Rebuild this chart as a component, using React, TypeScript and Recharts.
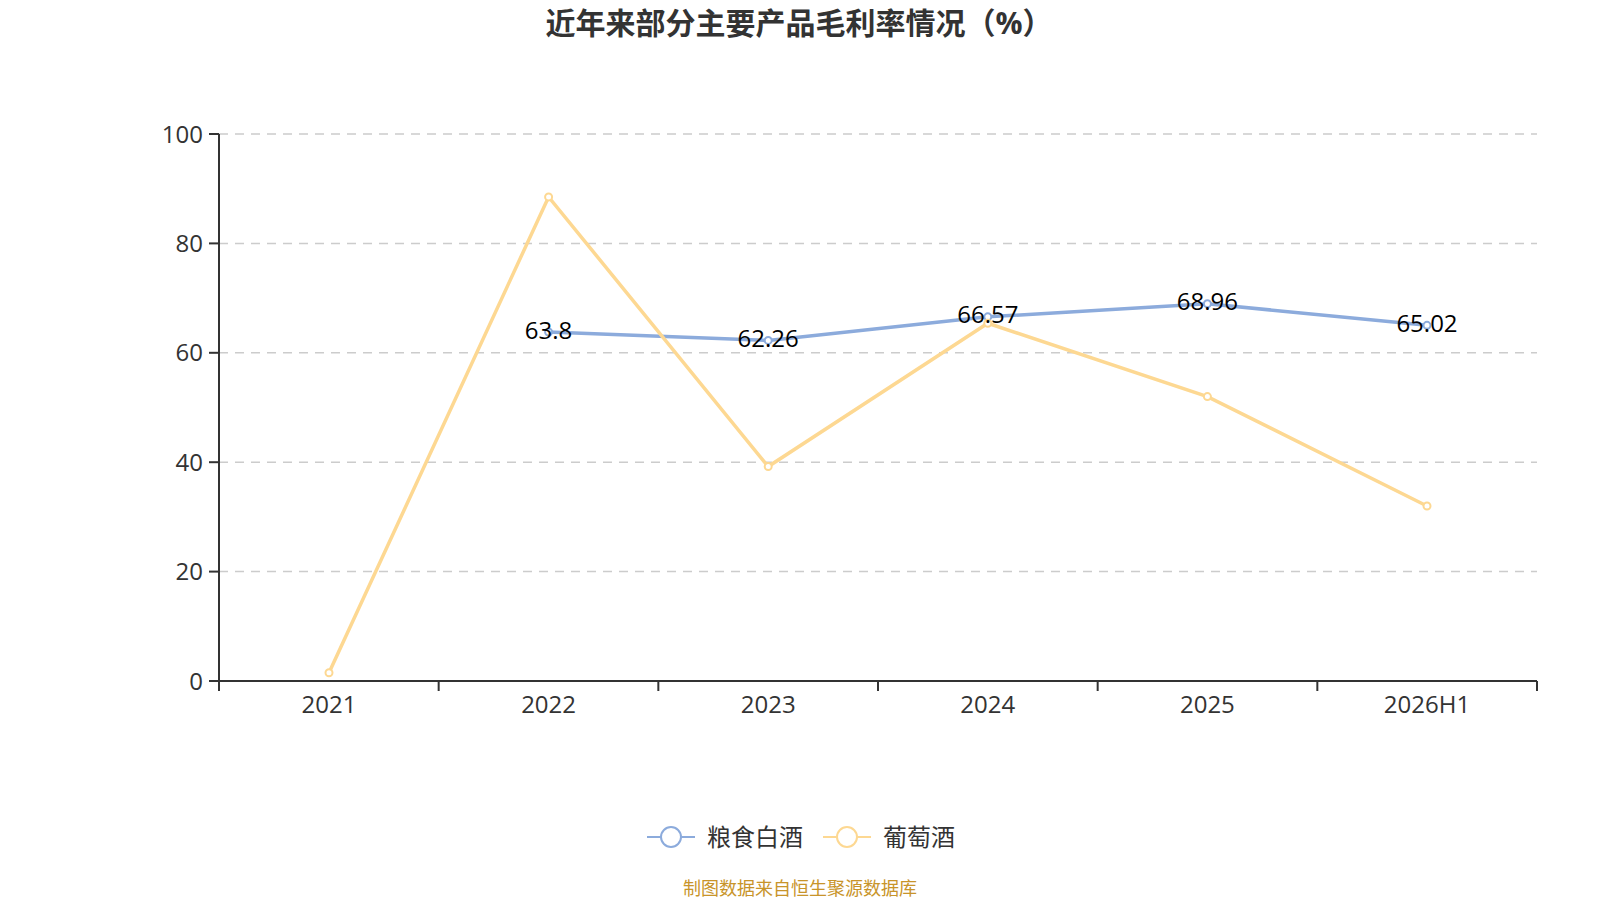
import React from 'react';
import { LineChart, Line, XAxis, YAxis, CartesianGrid, LabelList } from 'recharts';

const FONT = '"Open Sans", "Noto Sans CJK SC", sans-serif';

// categories and series
const years = ['2021', '2022', '2023', '2024', '2025', '2026H1'];
const grainLiquor = [null, 63.8, 62.26, 66.57, 68.96, 65.02];
const wine = [1.5, 88.5, 39.2, 65.4, 52.0, 32.0];
const yTicks = [0, 20, 40, 60, 80, 100];
const boundaryTicks = [0, 1, 2, 3, 4, 5, 6];

const SERIES = [
  { key: 'grain', name: '粮食白酒', color: '#8cabdc' },
  { key: 'wine', name: '葡萄酒', color: '#fdd892' },
];

const data = years.map((year, i) => ({
  year,
  idx: i + 0.5,
  grain: grainLiquor[i],
  wine: wine[i],
}));

const AXIS_COLOR = '#333';
const TICK_STYLE = { fontSize: 24, fill: '#333', fontFamily: FONT };
const HALF_BAND = 110; // half of one category band, so points sit in the middle of each band

function renderValueLabel(props: any) {
  const { x, y, value } = props;
  if (value === null || value === undefined) return null;
  return (
    <text x={x} y={y - 3} textAnchor="middle" dominantBaseline="central" fontSize={24} fill="#000" fontFamily={FONT}>
      {value}
    </text>
  );
}

const emptyTick = () => <g />;

function LegendIcon({ color }: { color: string }) {
  return (
    <svg width={48} height={26} style={{ display: 'block' }}>
      <line x1={0} y1={13} x2={48} y2={13} stroke={color} strokeWidth={2} />
      <circle cx={24} cy={13} r={10} fill="#fff" stroke={color} strokeWidth={2} />
    </svg>
  );
}

export default function App() {
  return (
    <div style={{ position: 'absolute', left: 0, top: 0, width: 1600, height: 900, background: '#fff', fontFamily: FONT, overflow: 'hidden' }}>
      {/* title */}
      <div style={{ position: 'absolute', top: 3, left: 0, width: 1598, textAlign: 'center', fontSize: 30, fontWeight: 'bold', color: '#333', lineHeight: '40px' }}>
        近年来部分主要产品毛利率情况（%）
      </div>

      <LineChart width={1600} height={900} data={data} margin={{ top: 134, right: 63, left: 139, bottom: 179 }}>
        <CartesianGrid xAxisId="cat" vertical={false} stroke="#ccc" strokeDasharray="9 7" strokeWidth={1.5} />
        {/* category labels (no line, no ticks) */}
        <XAxis
          xAxisId="cat"
          dataKey="year"
          axisLine={false}
          tickLine={false}
          tickSize={10}
          tickMargin={5}
          height={0.01}
          tick={TICK_STYLE}
          interval={0}
          padding={{ left: HALF_BAND, right: HALF_BAND }}
        />
        {/* axis line with ticks on the band boundaries */}
        <XAxis
          xAxisId="grid"
          type="number"
          dataKey="idx"
          domain={[0, 6]}
          ticks={boundaryTicks}
          allowDataOverflow
          tick={emptyTick}
          tickSize={10}
          height={39.99}
          stroke={AXIS_COLOR}
          strokeWidth={2}
        />
        <YAxis
          domain={[0, 100]}
          ticks={yTicks}
          width={80}
          tickSize={10}
          tickMargin={6}
          tick={TICK_STYLE}
          stroke={AXIS_COLOR}
          strokeWidth={2}
        />
        {/* invisible series so the boundary-tick axis is drawn */}
        <Line
          xAxisId="grid"
          type="linear"
          dataKey="wine"
          stroke="none"
          dot={false}
          activeDot={false}
          legendType="none"
          isAnimationActive={false}
        />
        <Line
          xAxisId="cat"
          type="linear"
          dataKey="grain"
          name={SERIES[0].name}
          stroke={SERIES[0].color}
          strokeWidth={3.5}
          dot={{ r: 3.5, fill: '#fff', stroke: SERIES[0].color, strokeWidth: 2 }}
          activeDot={false}
          isAnimationActive={false}
        />
        <Line
          xAxisId="cat"
          type="linear"
          dataKey="wine"
          name={SERIES[1].name}
          stroke={SERIES[1].color}
          strokeWidth={3.5}
          dot={{ r: 3.5, fill: '#fff', stroke: SERIES[1].color, strokeWidth: 2 }}
          activeDot={false}
          isAnimationActive={false}
        />
        {/* labels for 粮食白酒 drawn last so they sit on top */}
        <Line
          xAxisId="cat"
          type="linear"
          dataKey="grain"
          stroke="none"
          dot={false}
          activeDot={false}
          legendType="none"
          isAnimationActive={false}
        >
          <LabelList dataKey="grain" content={renderValueLabel} />
        </Line>
      </LineChart>

      {/* legend */}
      <div style={{ position: 'absolute', top: 822, left: 0, width: 1600, display: 'flex', justifyContent: 'center', alignItems: 'center', gap: 20, paddingLeft: 2, boxSizing: 'border-box' }}>
        {SERIES.map(s => (
          <div key={s.key} style={{ display: 'flex', alignItems: 'center', gap: 12 }}>
            <LegendIcon color={s.color} />
            <span style={{ fontSize: 24, color: '#333', lineHeight: '30px' }}>{s.name}</span>
          </div>
        ))}
      </div>

      {/* source */}
      <div style={{ position: 'absolute', top: 878, left: 0, width: 1600, textAlign: 'center', fontSize: 18, color: '#c8942a', lineHeight: '20px' }}>
        制图数据来自恒生聚源数据库
      </div>
    </div>
  );
}
